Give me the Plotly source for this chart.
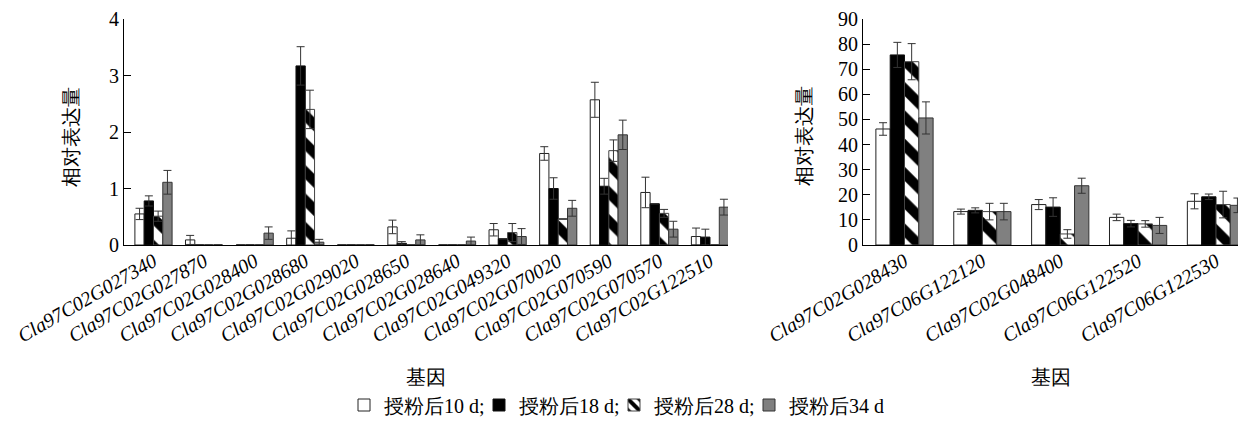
import plotly.graph_objects as go

# ---------------- data ----------------
genes_left = ["Cla97C02G027340", "Cla97C02G027870", "Cla97C02G028400", "Cla97C02G028680",
              "Cla97C02G029020", "Cla97C02G028650", "Cla97C02G028640", "Cla97C02G049320",
              "Cla97C02G070020", "Cla97C02G070590", "Cla97C02G070570", "Cla97C02G122510"]
d10_left = [0.55, 0.09, 0, 0.12, 0, 0.32, 0, 0.27, 1.62, 2.57, 0.93, 0.15]
d10_left_err = [0.10, 0.08, 0, 0.13, 0, 0.12, 0, 0.11, 0.12, 0.31, 0.27, 0.15]
d18_left = [0.78, 0, 0, 3.17, 0, 0.03, 0, 0.11, 1.00, 1.04, 0.73, 0.14]
d18_left_err = [0.09, 0, 0, 0.34, 0, 0.03, 0, 0, 0.19, 0.14, 0, 0.14]
d28_left = [0.51, 0, 0, 2.40, 0, 0, 0, 0.22, 0.46, 1.67, 0.56, 0]
d28_left_err = [0.09, 0, 0, 0.34, 0, 0, 0, 0.16, 0, 0.19, 0.07, 0]
d34_left = [1.11, 0, 0.21, 0.05, 0, 0.09, 0.07, 0.15, 0.65, 1.95, 0.28, 0.67]
d34_left_err = [0.21, 0, 0.11, 0.05, 0, 0.09, 0.07, 0.14, 0.14, 0.26, 0.14, 0.14]

genes_right = ["Cla97C02G028430", "Cla97C06G122120", "Cla97C02G048400",
               "Cla97C06G122520", "Cla97C06G122530"]
d10_right = [46.2, 13.3, 16.1, 11.0, 17.4]
d10_right_err = [2.5, 1.0, 2.0, 1.3, 3.0]
d18_right = [75.7, 13.8, 15.1, 8.5, 19.2]
d18_right_err = [5.0, 1.0, 3.7, 1.3, 1.1]
d28_right = [73.0, 13.3, 4.4, 8.4, 16.1]
d28_right_err = [7.2, 3.3, 1.7, 1.3, 5.3]
d34_right = [50.6, 13.3, 23.6, 7.8, 15.8]
d34_right_err = [6.4, 3.3, 3.0, 3.2, 2.9]

series_names = ["授粉后10 d;", "授粉后18 d;", "授粉后28 d;", "授粉后34 d"]
y_left_ticks = [0, 1, 2, 3, 4]
y_right_ticks = [0, 10, 20, 30, 40, 50, 60, 70, 80, 90]

# ---------------- layout helpers ----------------
W, H = 1246, 422
OFF = 8                      # page body margin of the browser
TOP, BOTTOM = 19 - OFF, 245 - OFF
PH = BOTTOM - TOP


def px(x):
    return (x - OFF) / W


def py(y):
    return (BOTTOM - (y - OFF)) / PH


FONT = "Times New Roman, Liberation Serif, serif"
styles = [
    dict(color="white", line="#222222", pattern=None),
    dict(color="black", line="#111111", pattern=None),
    dict(color="white", line="#444444",
         pattern=dict(shape="\\", fgcolor="#000000", bgcolor="white", fgopacity=1,
                      size=20, solidity=0.5)),
    dict(color="#808080", line="#333333", pattern=None),
]


def make_marker(st):
    m = dict(color=st["color"], line=dict(color=st["line"], width=1))
    if st["pattern"]:
        m["pattern"] = st["pattern"]
    return m


fig = go.Figure()
left_sets = [(d10_left, d10_left_err), (d18_left, d18_left_err),
             (d28_left, d28_left_err), (d34_left, d34_left_err)]
right_sets = [(d10_right, d10_right_err), (d18_right, d18_right_err),
              (d28_right, d28_right_err), (d34_right, d34_right_err)]

for i, (vals, errs) in enumerate(left_sets):
    fig.add_trace(go.Bar(
        x=genes_left, y=vals, name=series_names[i], marker=make_marker(styles[i]),
        error_y=dict(type="data", array=errs, visible=True, color="#333333",
                     thickness=1, width=4),
        xaxis="x", yaxis="y", offsetgroup=str(i), legendgroup=str(i), showlegend=True))

for i, (vals, errs) in enumerate(right_sets):
    fig.add_trace(go.Bar(
        x=genes_right, y=vals, name=series_names[i], marker=make_marker(styles[i]),
        error_y=dict(type="data", array=errs, visible=True, color="#333333",
                     thickness=1, width=4),
        xaxis="x2", yaxis="y2", offsetgroup=str(i), legendgroup=str(i), showlegend=False))

axis_common = dict(showgrid=False, zeroline=False, showline=True, linecolor="black",
                   linewidth=1, automargin=False)
xtick_font = dict(family=FONT, size=20, style="italic", color="black")
ytick_font = dict(family=FONT, size=20, color="black")

fig.update_layout(
    width=W, height=H,
    margin=dict(l=0, r=0, t=TOP, b=H - BOTTOM, autoexpand=False),
    paper_bgcolor="white", plot_bgcolor="white",
    barmode="group", bargap=0.265, bargroupgap=0,
    font=dict(family=FONT, size=20, color="black"),
    xaxis=dict(domain=[px(124), px(728)], anchor="y", type="category",
               range=[-0.583, 11.356], ticks="", tickangle=-30, tickfont=xtick_font,
               ticklabelstandoff=-4, **axis_common),
    yaxis=dict(domain=[0, 1], anchor="x", range=[0, 4], tickvals=y_left_ticks,
               ticks="inside", ticklen=7, tickcolor="black", tickfont=ytick_font,
               **axis_common),
    xaxis2=dict(domain=[px(863), px(1244)], anchor="y2", type="category",
                range=[-0.533, 4.36], ticks="", tickangle=-30, tickfont=xtick_font,
                ticklabelstandoff=-4, **axis_common),
    yaxis2=dict(domain=[0, 1], anchor="x2", range=[0, 90], tickvals=y_right_ticks,
                ticks="inside", ticklen=7, tickcolor="black", tickfont=ytick_font,
                **axis_common),
    legend=dict(orientation="h", x=px(344), xanchor="left", y=py(405),
                yanchor="middle", font=dict(family=FONT, size=20, color="black"),
                itemwidth=30, entrywidth=90, bgcolor="rgba(0,0,0,0)"),
    annotations=[
        dict(text="相对表达量", textangle=-90, x=px(71), y=py(137), xref="paper",
             yref="paper", xanchor="center", yanchor="middle", showarrow=False,
             font=dict(family=FONT, size=20)),
        dict(text="相对表达量", textangle=-90, x=px(804), y=py(136), xref="paper",
             yref="paper", xanchor="center", yanchor="middle", showarrow=False,
             font=dict(family=FONT, size=20)),
        dict(text="基因", x=px(426), y=py(377), xref="paper", yref="paper",
             xanchor="center", yanchor="middle", showarrow=False,
             font=dict(family=FONT, size=20)),
        dict(text="基因", x=px(1051), y=py(377), xref="paper", yref="paper",
             xanchor="center", yanchor="middle", showarrow=False,
             font=dict(family=FONT, size=20)),
    ],
)

fig.write_html("out.html")
